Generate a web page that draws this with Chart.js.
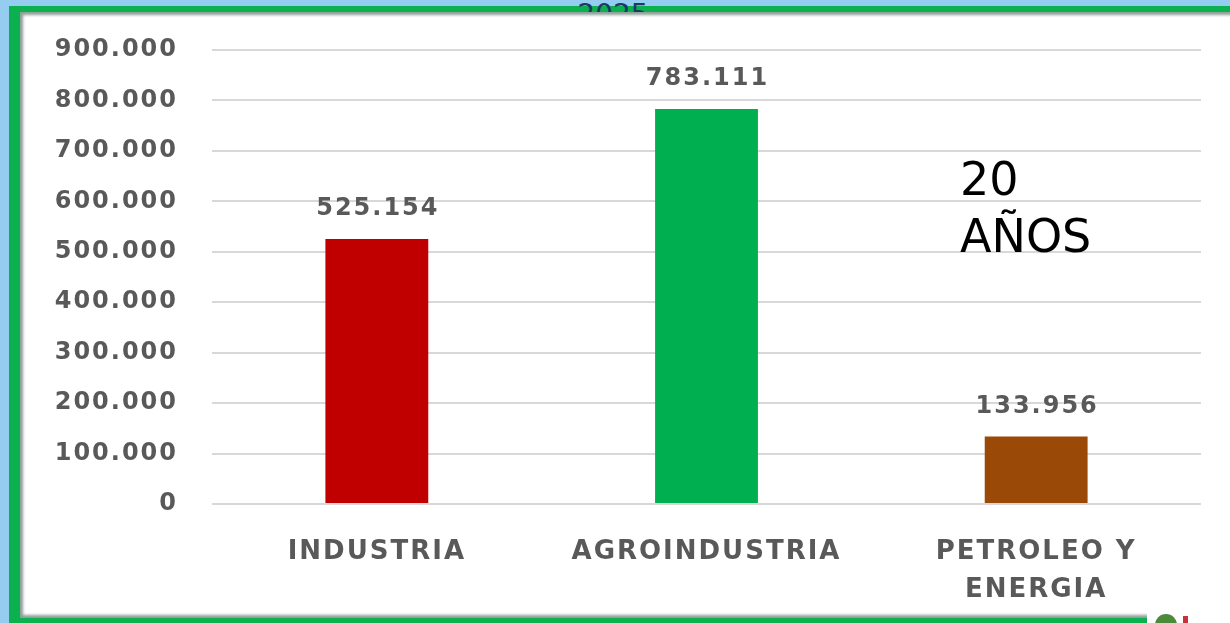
<!DOCTYPE html>
<html>
<head>
<meta charset="utf-8">
<script src="https://cdn.jsdelivr.net/npm/chart.js@4"></script>
<style>
  html, body { margin: 0; padding: 0; overflow: hidden; }
  body { width: 1230px; height: 623px; background: #94cdef; position: relative; }
  .frame { position: absolute; left: 9px; top: 6px; width: 1300px; height: 617px; background: #0bb04f; }
  .titel { position: absolute; left: 0; top: 1px; width: 1226px; text-align: center; font: 28px 'DejaVu Sans'; line-height: 28px; color: #1f3864; }
  .paneel { position: absolute; left: 20px; top: 12px; width: 1300px; height: 606px; background: #fff; box-shadow: inset 4px 4px 3px -1px #8d9e98, inset 0 -4px 3px -1px #8d9e98; }
  .logo { position: absolute; left: 1147px; top: 604px; width: 120px; height: 19px; background: #fff; }
  .logo .bol { position: absolute; left: 8px; top: 10px; width: 22px; height: 22px; border-radius: 50%; background: #4a8a3a; }
  .logo .rood { position: absolute; left: 36px; top: 12px; width: 5px; height: 10px; background: #c8323a; }
  .jaren { position: absolute; left: 960px; top: 151px; font: 46px 'DejaVu Sans'; line-height: 57px; color: #000; }
  canvas { position: absolute; left: 0; top: 0; }
</style>
</head>
<body>
<div class="frame"></div>
<div class="titel">2025</div>
<div class="paneel"></div>
<div class="logo"><div class="bol"></div><div class="rood"></div></div>
<canvas id="SectorChart" width="1230" height="623"></canvas>
<div class="jaren">20<br>AÑOS</div>

<script>
const categories = [['INDUSTRIA'], ['AGROINDUSTRIA'], ['PETROLEO Y', 'ENERGIA']];
const values = [525154, 783111, 133956];
const barColors = ['#c00000', '#00b050', '#9a4a06'];
const yTicks = [0, 100000, 200000, 300000, 400000, 500000, 600000, 700000, 800000, 900000];

// getal met punt als duizendtal-scheiding
function formatNumber(n) {
  return String(n).replace(/\B(?=(\d{3})+(?!\d))/g, '.');
}

// de tekst in het origineel is breed uitgerekt, dus wat extra letterafstand
const spacing = {
  id: 'spacing',
  beforeUpdate(chart) { chart.ctx.letterSpacing = '2px'; },
  beforeDraw(chart) { chart.ctx.letterSpacing = '2px'; }
};

const barLabels = {
  id: 'barLabels',
  afterDatasetsDraw(chart) {
    const ctx = chart.ctx;
    const meta = chart.getDatasetMeta(0);
    ctx.save();
    ctx.letterSpacing = '2px';
    ctx.font = 'bold 24px "DejaVu Sans"';
    ctx.fillStyle = '#595959';
    ctx.textAlign = 'center';
    ctx.textBaseline = 'middle';
    meta.data.forEach((bar, i) => {
      ctx.fillText(formatNumber(values[i]), bar.x + 1, bar.y - 30);
    });
    ctx.restore();
  }
};

const sector = document.getElementById('SectorChart');

new Chart(sector, {
  type: 'bar',
  data: {
    labels: categories,
    datasets: [{
      data: values,
      backgroundColor: barColors,
      borderWidth: 0,
      categoryPercentage: 1,
      barPercentage: 0.312
    }]
  },
  options: {
    responsive: false,
    animation: false,
    layout: { padding: { top: 50, right: 29, bottom: 0, left: 0 } },
    plugins: {
      legend: { display: false },
      tooltip: { enabled: false }
    },
    scales: {
      x: {
        grid: { display: false },
        border: { display: false },
        afterFit(scale) { scale.height = 119; },
        ticks: {
          color: '#595959',
          font: { family: 'DejaVu Sans', size: 26, weight: 'bold', lineHeight: 1.46 },
          padding: 21,
          maxRotation: 0,
          autoSkip: false
        }
      },
      y: {
        min: 0,
        max: 900000,
        afterFit(scale) { scale.width = 212; },
        afterBuildTicks(scale) { scale.ticks = yTicks.map(v => ({ value: v })); },
        grid: { color: '#d8d8d8', lineWidth: 2, drawTicks: false },
        border: { display: false },
        ticks: {
          color: '#595959',
          font: { family: 'DejaVu Sans', size: 24, weight: 'bold' },
          padding: 34,
          callback: v => formatNumber(v)
        }
      }
    }
  },
  plugins: [spacing, barLabels]
});
</script>
</body>
</html>
